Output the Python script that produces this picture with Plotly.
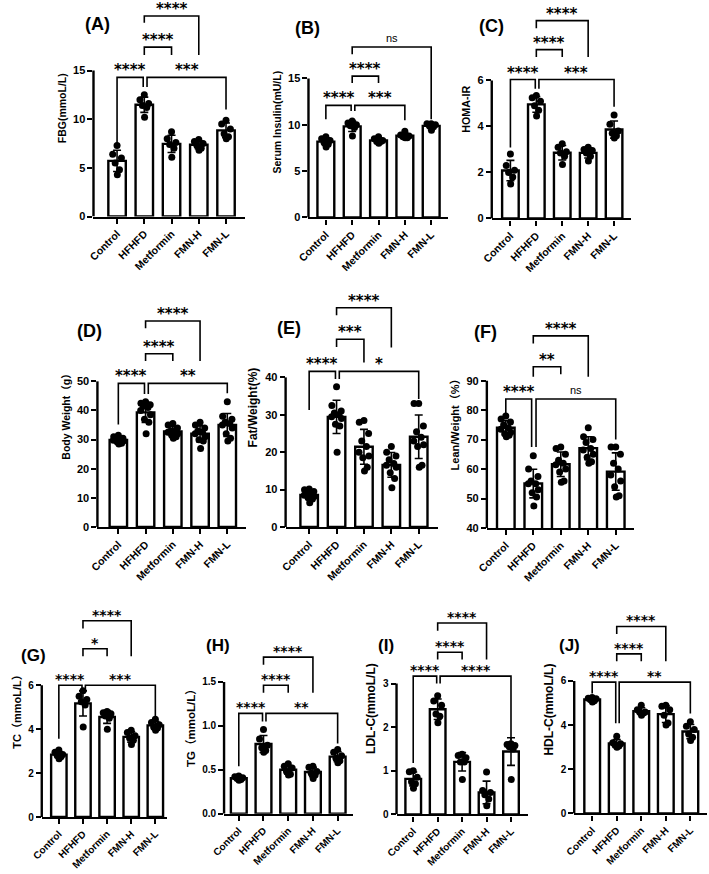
import numpy as np
import plotly.graph_objects as go

groups = ["Control", "HFHFD", "Metformin", "FMN-H", "FMN-L"]

# ---- individual animal values ----
fbg = [[7.3, 6.4, 6.0, 5.5, 4.8, 4.3],
       [12.5, 12.0, 11.6, 11.4, 11.2, 10.2],
       [8.7, 8.0, 7.6, 7.4, 7.0, 6.1],
       [7.9, 7.7, 7.5, 7.3, 7.0, 6.8],
       [9.9, 9.5, 9.0, 8.5, 8.2, 8.0]]
insulin = [[8.7, 8.5, 8.3, 8.1, 7.9, 7.6],
           [10.4, 10.2, 10.0, 9.9, 9.7, 8.8],
           [8.7, 8.5, 8.3, 8.2, 8.2, 8.0],
           [9.3, 8.9, 8.8, 8.7, 8.6, 8.6],
           [10.1, 10.1, 10.0, 9.9, 9.8, 9.4]]
homa = [[2.8, 2.3, 2.1, 2.0, 1.8, 1.5],
        [5.35, 5.25, 5.1, 4.9, 4.7, 4.45],
        [3.25, 3.1, 2.9, 2.85, 2.7, 2.35],
        [3.1, 3.0, 2.95, 2.85, 2.7, 2.5],
        [4.5, 4.1, 3.8, 3.7, 3.6, 3.5]]
body_weight = [[31.5, 31.0, 30.5, 30.2, 30.0, 29.8, 29.5, 29.2, 28.8, 28.5],
               [43.0, 42.5, 42.0, 41.5, 41.0, 40.0, 38.5, 37.0, 36.0, 32.0],
               [35.5, 35.0, 34.0, 33.0, 33.0, 32.5, 32.0, 31.5, 31.0, 30.5],
               [36.0, 35.0, 34.0, 33.0, 32.5, 32.0, 31.0, 30.0, 29.5, 27.0],
               [43.0, 38.0, 37.0, 36.0, 35.5, 35.0, 34.0, 32.0, 30.5, 29.5]]
fat_weight = [[10.2, 10.0, 9.5, 9.0, 8.8, 8.5, 8.2, 7.8, 7.5, 6.5],
              [37.5, 32.5, 31.0, 30.5, 30.0, 29.5, 29.0, 27.5, 27.0, 20.0],
              [28.5, 28.0, 25.0, 23.0, 21.5, 20.0, 19.0, 18.5, 16.0, 15.0],
              [21.5, 20.0, 19.0, 18.0, 17.0, 16.5, 16.0, 14.5, 13.0, 10.5],
              [33.0, 33.0, 27.0, 25.5, 24.0, 23.0, 22.0, 21.5, 16.5, 16.0]]
lean_weight = [[78.0, 77.0, 76.0, 75.0, 74.0, 73.5, 72.5, 72.0, 71.5, 71.0],
               [64.5, 60.0, 57.5, 56.0, 55.0, 55.0, 53.0, 52.0, 50.5, 47.5],
               [67.5, 67.0, 65.0, 63.0, 62.0, 61.5, 60.0, 59.0, 56.0, 55.5],
               [74.0, 71.0, 70.0, 69.0, 67.0, 66.5, 65.0, 64.0, 62.5, 62.0],
               [67.5, 67.5, 65.0, 62.0, 60.0, 58.0, 56.0, 54.0, 51.0, 50.5]]
tc = [[3.05, 2.95, 2.85, 2.8, 2.75, 2.65],
      [5.75, 5.5, 5.35, 5.25, 5.1, 4.1],
      [4.8, 4.75, 4.7, 4.6, 4.5, 4.0],
      [3.95, 3.85, 3.7, 3.6, 3.5, 3.3],
      [4.45, 4.3, 4.2, 4.1, 4.05, 3.95]]
tg = [[0.43, 0.42, 0.41, 0.40, 0.39, 0.38],
      [0.96, 0.85, 0.78, 0.75, 0.72, 0.70],
      [0.57, 0.54, 0.52, 0.48, 0.45, 0.44],
      [0.54, 0.53, 0.48, 0.46, 0.44, 0.40],
      [0.73, 0.70, 0.66, 0.63, 0.60, 0.58]]
ldl = [[1.0, 0.98, 0.85, 0.75, 0.7, 0.6],
       [2.72, 2.6, 2.5, 2.3, 2.25, 2.1],
       [1.38, 1.35, 1.3, 1.2, 1.2, 0.8],
       [0.97, 0.55, 0.5, 0.45, 0.35, 0.2],
       [1.62, 1.6, 1.58, 1.55, 1.5, 0.8]]
hdl = [[5.25, 5.22, 5.2, 5.15, 5.1, 5.05],
       [3.5, 3.2, 3.15, 3.1, 3.05, 3.0],
       [4.9, 4.7, 4.6, 4.6, 4.55, 4.45],
       [4.9, 4.85, 4.7, 4.45, 4.1, 4.0],
       [4.15, 3.95, 3.8, 3.6, 3.45, 3.3]]

# ---- tick labels ----
ticks_fbg = ["0", "5", "10", "15"]
ticks_ins = ["0", "5", "10", "15"]
ticks_homa = ["0", "2", "4", "6"]
ticks_bw = ["0", "10", "20", "30", "40", "50"]
ticks_fat = ["0", "10", "20", "30", "40"]
ticks_lean = ["40", "50", "60", "70", "80", "90"]
ticks_tc = ["0", "2", "4", "6"]
ticks_tg = ["0.0", "0.5", "1.0", "1.5"]
ticks_ldl = ["0", "1", "2", "3"]
ticks_hdl = ["0", "2", "4", "6"]

# significance comparisons: (x_left, x_right, y_line, y_left_end, y_right_end, label)
sig_A = [(0, 0.96, 14.3, 7.4, 13.3, "****"), (1.1, 4, 14.3, 13.3, 11.0, "***"),
         (1, 2, 17.4, 16.6, 16.6, "****"), (1, 3, 20.6, 19.9, 16.6, "****")]
sig_B = [(0, 0.96, 12.1, 10.6, 11.5, "****"), (1.1, 3, 12.1, 11.5, 10.5, "***"),
         (1, 2, 15.25, 14.5, 14.5, "****"), (1, 4, 18.4, 17.6, 10.6, "ns")]
sig_C = [(0, 0.96, 6.04, 3.09, 5.64, "****"), (1.1, 4, 6.04, 5.64, 4.86, "***"),
         (1, 2, 7.34, 7.02, 7.02, "****"), (1, 3, 8.6, 8.27, 7.02, "****")]
sig_D = [(0, 0.96, 49.3, 35.2, 45.7, "****"), (1.1, 4, 49.3, 45.7, 45.9, "**"),
         (1, 2, 59.5, 57.0, 57.0, "****"), (1, 3, 70.7, 68.2, 57.0, "****")]
sig_E = [(0, 0.96, 41.6, 31.3, 39.6, "****"), (1.1, 4, 41.6, 39.6, 34.2, "*"),
         (1, 2, 50.2, 48.1, 44.0, "***"), (1, 3, 58.6, 56.6, 48.0, "****")]
sig_F = [(0, 0.94, 83.8, 78.7, 67.5, "****"), (1.1, 4, 83.8, 67.5, 70.0, "ns"),
         (1, 2, 94.7, 91.3, 92.2, "**"), (1, 3, 105.2, 102.6, 91.3, "****")]
sig_G = [(0, 0.96, 6.0, 3.56, 5.67, "****"), (1.1, 4, 6.0, 5.67, 4.57, "***"),
         (1, 2, 7.66, 7.32, 7.32, "*"), (1, 3, 8.94, 8.59, 7.32, "****")]
sig_H = [(0, 0.96, 1.142, 0.54, 1.05, "****"), (1.1, 4, 1.142, 1.05, 0.80, "**"),
         (1, 2, 1.463, 1.376, 1.376, "****"), (1, 3, 1.783, 1.697, 1.376, "****")]
sig_I = [(0, 0.96, 3.17, 1.18, 3.0, "****"), (1.1, 4, 3.17, 3.0, 1.71, "****"),
         (1, 2, 3.72, 3.55, 3.55, "****"), (1, 3, 4.39, 4.21, 3.55, "****")]
sig_J = [(0, 0.96, 5.95, 5.43, 4.08, "****"), (1.1, 4, 5.95, 4.08, 4.53, "**"),
         (1, 2, 7.23, 6.89, 6.89, "****"), (1, 3, 8.47, 8.13, 6.89, "****")]

# ---- layout of panels (pixel geometry) ----
# geom: (axis left px, axis right px, y px of axis min, y px of top tick, Control px, FMN-L px, domain top px)
panels = [
    dict(tag="(A)", tpos=(86, 24.5), ylabel="FBG(mmoL/L)", data=fbg, ticks=ticks_fbg, sig=sig_A,
         geom=(82, 236, 218, 71, 106, 217, 0), fs=dict(tick=10.5, ytick=11, lab=10.5, star=15, title=18)),
    dict(tag="(B)", tpos=(300.5, 28.5), ylabel="Serum Insulin(mU/L)", data=insulin, ticks=ticks_ins, sig=sig_B,
         geom=(301, 443, 219, 79, 318.7, 426, 27), fs=dict(tick=10.5, ytick=11, lab=10.5, star=15, title=18)),
    dict(tag="(C)", tpos=(487.5, 26), ylabel="HOMA-IR", data=homa, ticks=ticks_homa, sig=sig_C,
         geom=(487.7, 630, 220, 81, 506.7, 612.3, 0), fs=dict(tick=10.5, ytick=11, lab=10.7, star=15, title=18)),
    dict(tag="(D)", tpos=(77.5, 333.5), ylabel="Body Weight（g）", data=body_weight, ticks=ticks_bw, sig=sig_D,
         geom=(86, 237, 530.7, 384, 107.3, 218.3, 303), fs=dict(tick=10.5, ytick=11, lab=10.5, star=15, title=18)),
    dict(tag="(E)", tpos=(281, 330.5), ylabel="Fat/Weight(%)", data=fat_weight, ticks=ticks_fat, sig=sig_E,
         geom=(277.7, 433, 530.7, 380, 301.7, 413.3, 290), fs=dict(tick=10.5, ytick=11, lab=12, star=15, title=18)),
    dict(tag="(F)", tpos=(481, 334), ylabel="Lean/Weight（%）", data=lean_weight, ticks=ticks_lean, sig=sig_F,
         geom=(482.7, 632.7, 531.7, 383.3, 502, 614, 318), fs=dict(tick=10.5, ytick=11, lab=11, star=15, title=18)),
    dict(tag="(G)", tpos=(21, 660.5), ylabel="TC（mmoL/L）", data=tc, ticks=ticks_tc, sig=sig_G,
         geom=(29.3, 156.7, 822.7, 690, 46.7, 145, 605), fs=dict(tick=10, ytick=10, lab=11, star=14, title=17)),
    dict(tag="(H)", tpos=(208.5, 649.5), ylabel="TG（mmoL/L）", data=tg, ticks=ticks_tg, sig=sig_H,
         geom=(215, 346.7, 819.3, 686.7, 230, 330.7, 641), fs=dict(tick=10, ytick=10, lab=11.5, star=14, title=17)),
    dict(tag="(I)", tpos=(380, 650), ylabel="LDL-C(mmoL/L)", data=ldl, ticks=ticks_ldl, sig=sig_I,
         geom=(390.7, 525, 820, 688.3, 407.7, 507.3, 607), fs=dict(tick=10, ytick=10, lab=12, star=14, title=17)),
    dict(tag="(J)", tpos=(566.5, 649.5), ylabel="HDL-C(mmoL/L)", data=hdl, ticks=ticks_hdl, sig=sig_J,
         geom=(571.7, 706.7, 819, 685.7, 590, 690, 610), fs=dict(tick=10, ytick=10, lab=12, star=14, title=17)),
]

W, H = 709, 874
FONT = "Liberation Sans, Arial, Noto Sans CJK SC"
STARFONT = "DejaVu Sans"
off6 = [0.0, -0.16, 0.16, -0.07, 0.09, 0.01]
off10 = [0.0, -0.17, 0.17, -0.08, 0.09, -0.18, 0.18, -0.04, 0.12, 0.02]

fig = go.Figure()
layout = {}
shapes = []
annotations = []

for k, p in enumerate(panels):
    n = k + 1
    xa = "x" if n == 1 else f"x{n}"
    ya = "y" if n == 1 else f"y{n}"
    L, R, y0, ytop, c0, c4, T = p["geom"]
    tvals = [float(t) for t in p["ticks"]]
    vmin, vmax = tvals[0], tvals[-1]
    ppu = (y0 - ytop) / (vmax - vmin)
    s = (c4 - c0) / 4.0
    xr = [-(c0 - L) / s, 4 + (R - c4) / s]
    yr = [vmin, vmin + (y0 - T) / ppu]
    fs = p["fs"]

    vals = p["data"]
    means = [float(np.mean(v)) for v in vals]
    sds = [float(np.std(v, ddof=1)) for v in vals]

    fig.add_trace(go.Bar(
        x=list(range(5)), y=means, width=0.64, xaxis=xa, yaxis=ya,
        marker=dict(color="white", line=dict(color="black", width=2.4)),
        error_y=dict(type="data", array=sds, color="black", thickness=1.6, width=4),
        showlegend=False, hoverinfo="skip"))
    px, py = [], []
    for i, v in enumerate(vals):
        offs = off10 if len(v) == 10 else off6
        for j, val in enumerate(v):
            px.append(i + offs[j % len(offs)])
            py.append(val)
    fig.add_trace(go.Scatter(
        x=px, y=py, mode="markers", xaxis=xa, yaxis=ya, cliponaxis=False,
        marker=dict(size=7, color="black"), showlegend=False, hoverinfo="skip"))

    axis_font = dict(family=FONT, color="black", weight="bold")
    layout["xaxis" if n == 1 else f"xaxis{n}"] = dict(
        domain=[L / W, R / W], range=xr, anchor=ya,
        tickvals=list(range(5)), ticktext=groups, tickangle=-45,
        showline=True, linecolor="black", linewidth=2.4,
        ticks="outside", ticklen=5, tickwidth=2, tickcolor="black",
        showgrid=False, zeroline=False, fixedrange=True,
        tickfont=dict(size=fs["tick"], **axis_font))
    layout["yaxis" if n == 1 else f"yaxis{n}"] = dict(
        domain=[1 - y0 / H, 1 - T / H], range=yr, anchor=xa,
        tickvals=tvals, ticktext=p["ticks"],
        showline=False, ticks="outside", ticklen=5, tickwidth=2, tickcolor="black",
        showgrid=False, zeroline=False, fixedrange=True,
        tickfont=dict(size=fs["ytick"], **axis_font),
        title=dict(text=p["ylabel"], font=dict(size=fs["lab"], **axis_font), standoff=4))

    shapes.append(dict(type="line", xref=f"{xa} domain", yref=ya, x0=0, x1=0, y0=vmin, y1=vmax,
                       line=dict(color="black", width=2.4)))

    for (xl, xr_, yl, ybl, ybr, lab) in p["sig"]:
        shapes.append(dict(type="path", xref=xa, yref=ya,
                           path=f"M {xl},{ybl} L {xl},{yl} L {xr_},{yl} L {xr_},{ybr}",
                           line=dict(color="black", width=1.6)))
        if lab == "ns":
            annotations.append(dict(x=(xl + xr_) / 2, y=yl, xref=xa, yref=ya, text="ns",
                                    showarrow=False, yanchor="bottom", yshift=1,
                                    font=dict(family=FONT, size=11, color="black")))
        else:
            annotations.append(dict(x=(xl + xr_) / 2, y=yl, xref=xa, yref=ya, text=lab,
                                    showarrow=False, yanchor="bottom", yshift=-4,
                                    font=dict(family=STARFONT, size=fs["star"], color="black", weight="bold")))

    annotations.append(dict(x=p["tpos"][0] / W, y=1 - p["tpos"][1] / H, xref="paper", yref="paper",
                            text=p["tag"], showarrow=False, xanchor="center", yanchor="middle",
                            font=dict(family=FONT, size=fs["title"], color="black", weight="bold")))

fig.update_layout(
    width=W, height=H, margin=dict(l=0, r=0, t=0, b=0),
    paper_bgcolor="white", plot_bgcolor="white", showlegend=False,
    shapes=shapes, annotations=annotations, **layout)

fig.write_html("out.html")
